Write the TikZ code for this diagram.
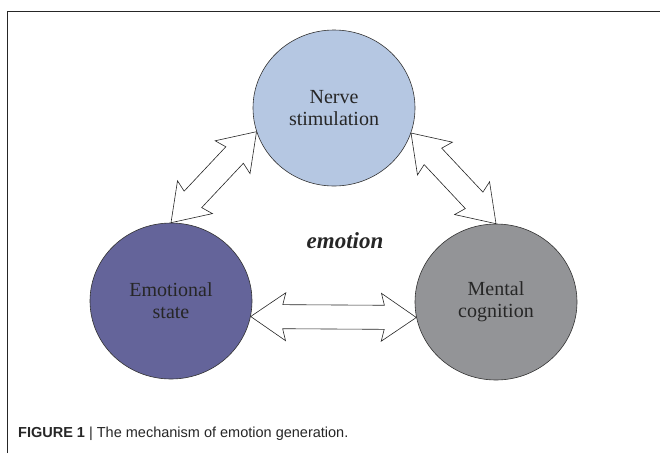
\documentclass[tikz,border=0pt]{standalone}
\usepackage{fontspec}
\setmainfont{Liberation Serif}
\setsansfont{Liberation Sans}
\usetikzlibrary{shapes.geometric,calc}

\definecolor{nervecol}{RGB}{181,199,226}
\definecolor{statecol}{RGB}{100,100,154}
\definecolor{mindcol}{RGB}{147,148,151}

\tikzset{
  bubble/.style={ellipse, draw=black!80, line width=0.6pt, minimum width=162pt,
    minimum height=156pt, inner sep=0pt, align=center, text=black!85,
    font=\fontsize{20}{22}\selectfont},
  blockarrow/.style={draw=black!85, fill=white, line width=0.6pt, line join=miter}
}

% double block arrow between two points
\newcommand{\twowayarrow}[2]{%
  \draw[blockarrow] (#1) -- ($(#1)!42.4pt!34.4:(#2)$) -- ($(#1)!34.2pt!20.6:(#2)$)
    -- ($(#2)!34.2pt!-20.6:(#1)$) -- ($(#2)!42.4pt!-34.4:(#1)$) -- (#2)
    -- ($(#2)!42.4pt!34.4:(#1)$) -- ($(#2)!34.2pt!20.6:(#1)$)
    -- ($(#1)!34.2pt!-20.6:(#2)$) -- ($(#1)!42.4pt!-34.4:(#2)$) -- cycle;}

\begin{document}
\begin{tikzpicture}[x=1pt,y=-1pt]
			\useasboundingbox (0,0) rectangle (660,453);
			
			% frame
			\draw[black!85, line width=0.8pt] (7,453) -- (7,11) -- (660,11);
			
			\node[bubble, fill=nervecol] (NS) at (334,108) {Nerve\\stimulation};
			\node[bubble, fill=statecol] (ES) at (171,301) {Emotional\\state};
			\node[bubble, fill=mindcol] (MC) at (496,302) {Mental\\cognition};
			
			\node[font=\fontsize{23}{26}\selectfont\bfseries\itshape, text=black!85] (EM) at (345,241) {emotion};
			
			%\node (X) at (334,205) {};
			
			\coordinate (A1) at (ES.north);
			\coordinate (B1) at (NS.197);
			\coordinate (A2) at (NS.342);
			\coordinate (B2) at (MC.north);
			\coordinate (A3) at (ES.349);
			\coordinate (B3) at (MC.191);
			
			\twowayarrow{A1}{B1}
			\twowayarrow{A2}{B2}
			\twowayarrow{A3}{B3}
			
			\node[anchor=base west, inner sep=0pt, font=\sffamily\fontsize{14.5}{17}\selectfont, text=black!85] (CAP) at (18,437)
			  {\textbf{FIGURE 1} | The mechanism of emotion generation.};
			\end{tikzpicture}
\end{document}
